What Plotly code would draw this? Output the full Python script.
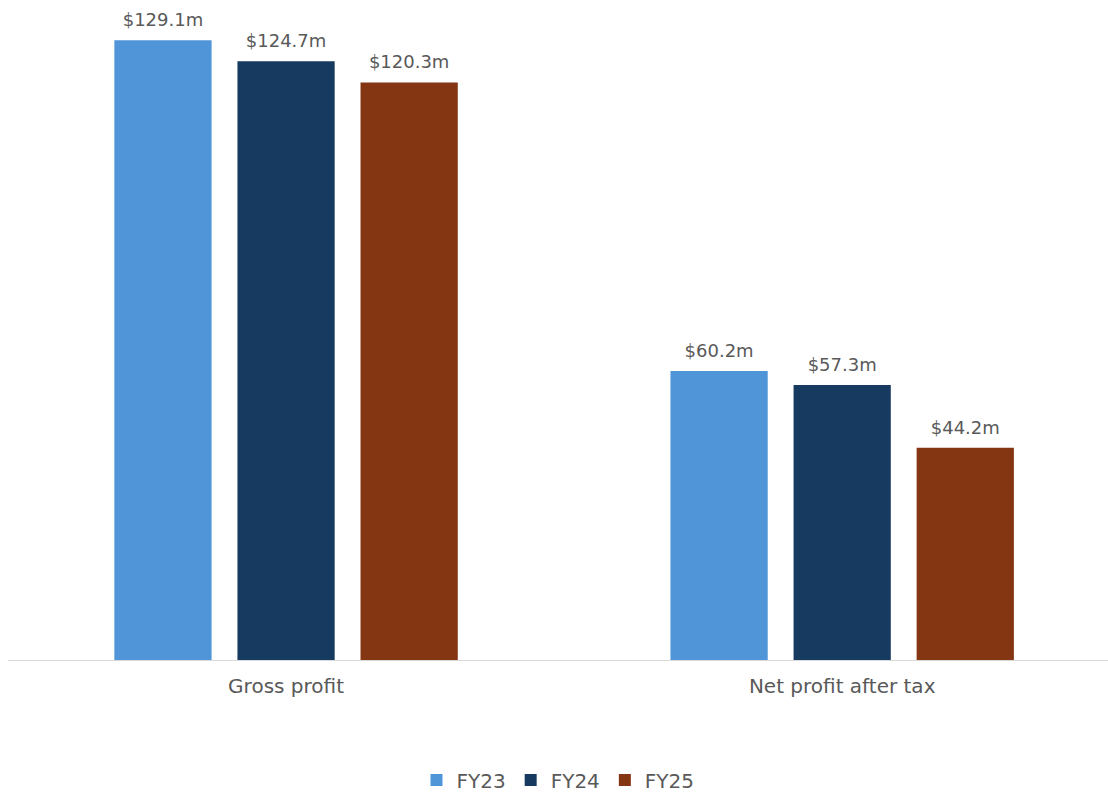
import plotly.graph_objects as go

categories = ["Gross profit", "Net profit after tax"]
fy23 = [129.1, 60.2]
fy24 = [124.7, 57.3]
fy25 = [120.3, 44.2]

series = [("FY23", fy23, "#4F95D8"), ("FY24", fy24, "#173B60"), ("FY25", fy25, "#843511")]
FONT = "DejaVu Sans, sans-serif"
GREY = "#595959"

fig = go.Figure()
for name, vals, color in series:
    fig.add_trace(go.Bar(
        x=categories, y=vals, name=name,
        marker=dict(color=color, line=dict(width=0)),
        # small base font with a blank second line lifts each value label off its bar
        text=[f"<span style='font-size:18px'>${v:.1f}m</span><br> " for v in vals],
        textposition="outside", cliponaxis=False,
        textfont=dict(size=7, color=GREY, family=FONT),
    ))

fig.update_layout(
    width=1108, height=792,
    margin=dict(l=8, r=0, t=20, b=132, autoexpand=False),
    paper_bgcolor="white", plot_bgcolor="white",
    barmode="group", bargap=0.336, bargroupgap=0.21,
    uniformtext=dict(mode=False),
    font=dict(family=FONT, color=GREY, size=18),
    showlegend=True,
    legend=dict(orientation="h", x=0.5, xanchor="center", y=-0.1875, yanchor="middle",
                font=dict(size=20, color=GREY, family=FONT), traceorder="normal",
                itemwidth=30),
    xaxis=dict(showline=True, linecolor="#D9D9D9", linewidth=1, ticks="",
               range=[-0.5, 1.478], ticklabelstandoff=8,
               tickfont=dict(size=20, color=GREY, family=FONT)),
    yaxis=dict(visible=False, range=[0, 133.3]),
)
fig.write_html("out.html")
